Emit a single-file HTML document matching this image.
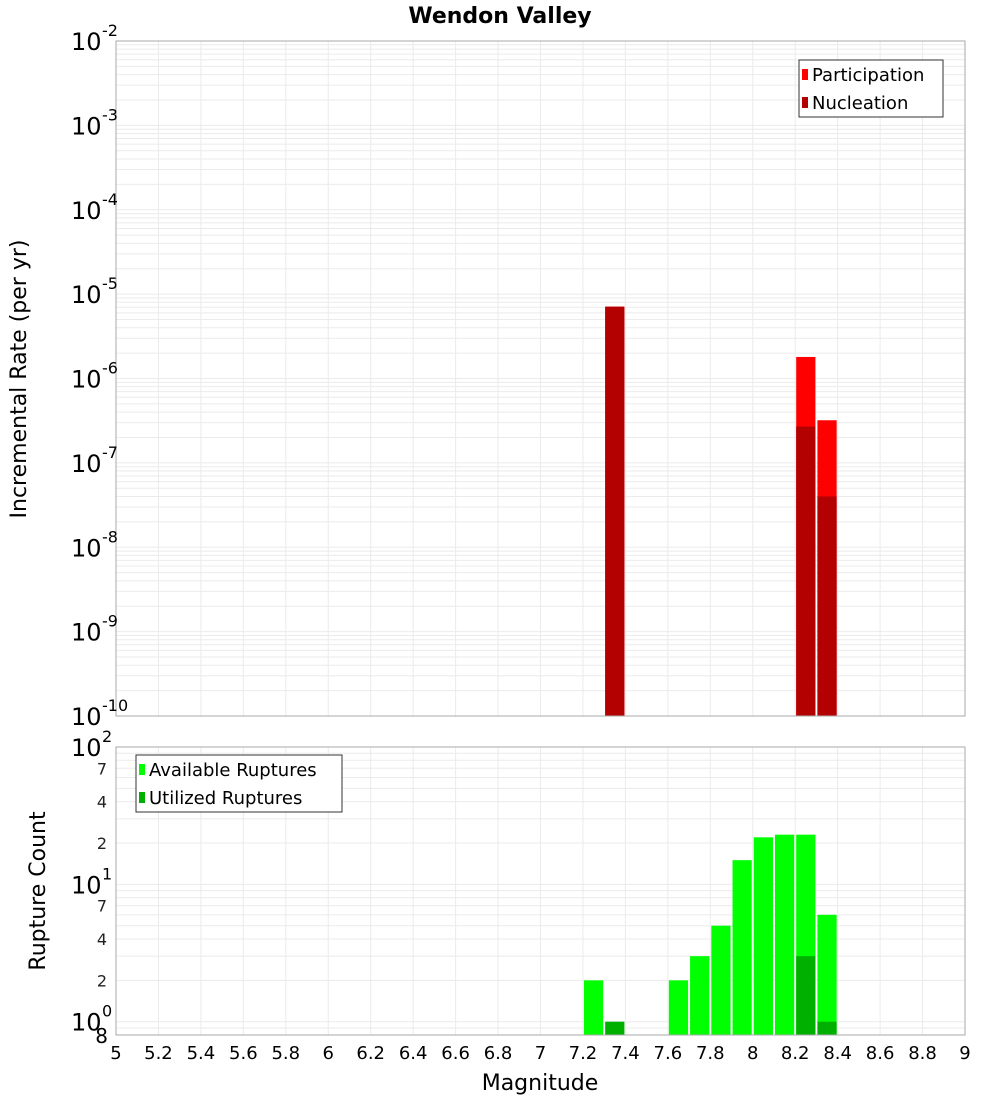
<!DOCTYPE html>
<html><head><meta charset="utf-8"><style>
body{margin:0;background:#fff;width:1000px;height:1100px;overflow:hidden}
svg{font-family:"DejaVu Sans","Liberation Sans",sans-serif}
</style></head><body>
<svg id="c" width="1000" height="1100" xmlns="http://www.w3.org/2000/svg"></svg>
<script>
const xTicks=[5,5.2,5.4,5.6,5.8,6,6.2,6.4,6.6,6.8,7,7.2,7.4,7.6,7.8,8,8.2,8.4,8.6,8.8,9];
const rateBins=[7.3,8.2,8.3];
const participation=[7.1e-6,1.8e-6,3.2e-7];
const nucleation=[7.1e-6,2.7e-7,4.0e-8];
const countBins=[7.2,7.6,7.7,7.8,7.9,8.0,8.1,8.2,8.3];
const available=[2,2,3,5,15,22,23,23,6];
const utilBins=[7.3,8.2,8.3];
const utilized=[1,3,1];
const topExp=[-2,-3,-4,-5,-6,-7,-8,-9,-10];
const botExp=[2,1,0];
const minorLabels=[2,4,7];

const svg=document.getElementById('c');
const NS='http://www.w3.org/2000/svg';
function el(tag,attrs,parent){const e=document.createElementNS(NS,tag);for(const k in attrs)e.setAttribute(k,attrs[k]);(parent||svg).appendChild(e);return e;}
const X0=116,X1=965;
const xs=v=>X0+(v-5)/4*(X1-X0);
const T0=41,T1=716;
const yTop=v=>T0+(-2-Math.log10(v))/8*(T1-T0);
const B0=747,B1=1035,bmin=0.8;
const yBot=v=>B0+(2-Math.log10(v))/(2-Math.log10(bmin))*(B1-B0);

function grids(y0,y1,yf,lo,hi){
  for(let d=lo;d<hi;d++)for(let m=1;m<10;m++){const v=m*Math.pow(10,d);const y=yf(v);if(y<y0-0.5||y>y1+0.5)continue;
    const l=el('line',{x1:X0,x2:X1,y1:y,y2:y,stroke:'#ebebeb','stroke-width':1});
    }
  xTicks.forEach(t=>{const x=xs(t);const l=el('line',{x1:x,x2:x,y1:y0,y2:y1,stroke:'#ebebeb','stroke-width':1});
    });
}
grids(T0,T1,yTop,-10,-1);
grids(B0,B1,yBot,-1,2);

const bw=xs(5.1)-xs(5);
rateBins.forEach((b,i)=>{
  const x=xs(b)+1;
  const p=el('rect',{x:x,y:yTop(participation[i]),width:bw-2,height:T1-yTop(participation[i]),fill:'#ff0000'});
  
  const n=el('rect',{x:x,y:yTop(nucleation[i]),width:bw-2,height:T1-yTop(nucleation[i]),fill:'#b30000'});
  
});
countBins.forEach((b,i)=>{
  const r=el('rect',{x:xs(b)+1,y:yBot(available[i]),width:bw-2,height:B1-yBot(available[i]),fill:'#00ff00'});
  
});
utilBins.forEach((b,i)=>{
  const r=el('rect',{x:xs(b)+1,y:yBot(utilized[i]),width:bw-2,height:B1-yBot(utilized[i]),fill:'#00b000'});
  
});

let f=el('rect',{x:X0,y:T0,width:X1-X0,height:T1-T0,fill:'none',stroke:'#aaa'});

f=el('rect',{x:X0,y:B0,width:X1-X0,height:B1-B0,fill:'none',stroke:'#aaa'});


function majorLabel(y,e){
  const t=el('text',{x:71,y:y+9,'font-size':24,fill:'#000'});t.textContent='10';
  
  const s=el('text',{x:102,y:y-5,'font-size':16,fill:'#000'});s.textContent=String(e);
  
}
topExp.forEach(e=>majorLabel(yTop(Math.pow(10,e)),e));
botExp.forEach(e=>majorLabel(yBot(Math.pow(10,e)),e));
[0,1].forEach(d=>minorLabels.forEach(m=>{const y=yBot(m*Math.pow(10,d));
  const t=el('text',{x:107,y:y+6,'font-size':16,fill:'#222','text-anchor':'end'});t.textContent=String(m);
  }));
let t8=el('text',{x:108,y:B1+8,'font-size':20,fill:'#000','text-anchor':'end'});t8.textContent='8';


xTicks.forEach(v=>{const t=el('text',{x:xs(v),y:1059,'font-size':18,'text-anchor':'middle',fill:'#000'});t.textContent=String(v);
  });

let tt=el('text',{x:500,y:23,'font-size':22,'font-weight':'bold','text-anchor':'middle'});tt.textContent='Wendon Valley';

tt=el('text',{x:540,y:1090,'font-size':22,'text-anchor':'middle'});tt.textContent='Magnitude';

tt=el('text',{x:26,y:379,'font-size':22,'text-anchor':'middle',transform:'rotate(-90 26 379)'});tt.textContent='Incremental Rate (per yr)';

tt=el('text',{x:45,y:891,'font-size':22,'text-anchor':'middle',transform:'rotate(-90 45 891)'});tt.textContent='Rupture Count';


function legend(x,y,w,items,name){
  const g=el('g',{});
  el('rect',{x:x,y:y,width:w,height:57,fill:'#fff',stroke:'#333'},g);
  items.forEach((it,i)=>{const yy=y+14+i*28;
    el('rect',{x:x+3,y:yy-5,width:6,height:11,fill:it[1]},g);
    const t=el('text',{x:x+13,y:yy+7,'font-size':18,fill:'#000'},g);t.textContent=it[0];
    });
}
legend(799,60,144,[['Participation','#ff0000'],['Nucleation','#b30000']],'top-legend');
legend(136,755,206,[['Available Ruptures','#00ff00'],['Utilized Ruptures','#00b000']],'bottom-legend');
</script>
</body></html>
